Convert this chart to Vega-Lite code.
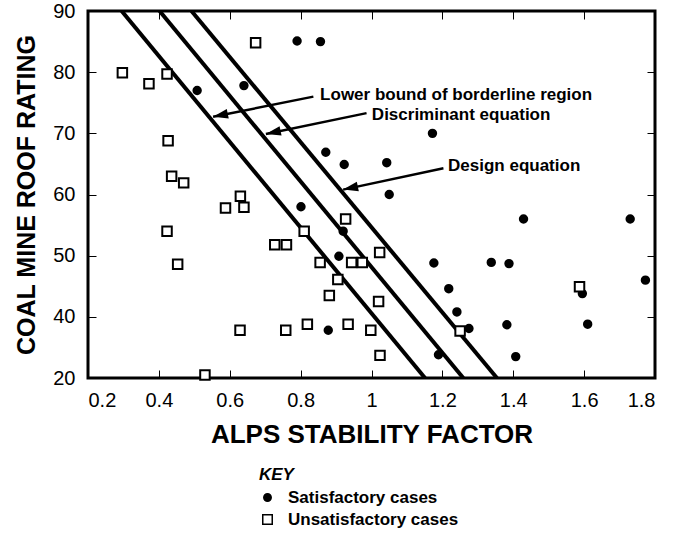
{
  "$schema": "https://vega.github.io/schema/vega-lite/v6.json",
  "width": 567,
  "height": 367,
  "autosize": {"type": "none"},
  "padding": {"left": 88, "top": 11, "right": 29, "bottom": 155},
  "background": "white",
  "config": {
    "font": "Liberation Sans",
    "view": {"stroke": "black", "strokeWidth": 3},
    "axis": {
      "domain": false,
      "grid": false,
      "tickColor": "black",
      "tickWidth": 1,
      "tickSize": -8,
      "labelColor": "black",
      "titleColor": "black",
      "labelFont": "Liberation Sans",
      "titleFont": "Liberation Sans"
    },
    "legend": {
      "orient": "none",
      "legendX": 171,
      "legendY": 456,
      "padding": 0,
      "titleFont": "Liberation Sans",
      "titleFontSize": 17,
      "titleFontWeight": "bold",
      "titleFontStyle": "italic",
      "titleColor": "black",
      "titlePadding": 5,
      "labelFont": "Liberation Sans",
      "labelFontSize": 17,
      "labelFontWeight": "bold",
      "labelColor": "black",
      "labelOffset": 12,
      "labelLimit": 400,
      "rowPadding": 4
    }
  },
  "datasets": {
    "lines": [
      {"eq": "Lower bound of borderline region", "x": 0.295, "y": 90},
      {"eq": "Lower bound of borderline region", "x": 1.151, "y": 30},
      {"eq": "Discriminant equation", "x": 0.402, "y": 90},
      {"eq": "Discriminant equation", "x": 1.259, "y": 30},
      {"eq": "Design equation", "x": 0.492, "y": 90},
      {"eq": "Design equation", "x": 1.354, "y": 30}
    ],
    "arrows": [
      {"x": 0.836, "y": 76.0, "x2": 0.553, "y2": 72.7},
      {"x": 0.986, "y": 73.3, "x2": 0.702, "y2": 69.9},
      {"x": 1.203, "y": 64.3, "x2": 0.920, "y2": 60.8}
    ],
    "notes": [
      {"x": 0.855, "y": 76.3, "label": "Lower bound of borderline region"},
      {"x": 1.001, "y": 73.05, "label": "Discriminant equation"},
      {"x": 1.216, "y": 64.6, "label": "Design equation"}
    ],
    "points": [
      {"type": "Satisfactory cases", "x": 0.790, "y": 85.1},
      {"type": "Satisfactory cases", "x": 0.856, "y": 85.0},
      {"type": "Satisfactory cases", "x": 0.508, "y": 77.0},
      {"type": "Satisfactory cases", "x": 0.640, "y": 77.8},
      {"type": "Satisfactory cases", "x": 0.871, "y": 66.9},
      {"type": "Satisfactory cases", "x": 0.923, "y": 64.9},
      {"type": "Satisfactory cases", "x": 1.172, "y": 70.0},
      {"type": "Satisfactory cases", "x": 1.043, "y": 65.2},
      {"type": "Satisfactory cases", "x": 1.050, "y": 60.0},
      {"type": "Satisfactory cases", "x": 0.801, "y": 58.0},
      {"type": "Satisfactory cases", "x": 0.920, "y": 54.0},
      {"type": "Satisfactory cases", "x": 0.908, "y": 49.9},
      {"type": "Satisfactory cases", "x": 0.878, "y": 37.8},
      {"type": "Satisfactory cases", "x": 1.429, "y": 56.0},
      {"type": "Satisfactory cases", "x": 1.730, "y": 56.0},
      {"type": "Satisfactory cases", "x": 1.176, "y": 48.8},
      {"type": "Satisfactory cases", "x": 1.338, "y": 48.9},
      {"type": "Satisfactory cases", "x": 1.388, "y": 48.7},
      {"type": "Satisfactory cases", "x": 1.773, "y": 46.0},
      {"type": "Satisfactory cases", "x": 1.595, "y": 43.8},
      {"type": "Satisfactory cases", "x": 1.218, "y": 44.6},
      {"type": "Satisfactory cases", "x": 1.241, "y": 40.8},
      {"type": "Satisfactory cases", "x": 1.275, "y": 38.1},
      {"type": "Satisfactory cases", "x": 1.382, "y": 38.7},
      {"type": "Satisfactory cases", "x": 1.610, "y": 38.8},
      {"type": "Satisfactory cases", "x": 1.189, "y": 33.8},
      {"type": "Satisfactory cases", "x": 1.407, "y": 33.5},
      {"type": "Unsatisfactory cases", "x": 0.673, "y": 84.8},
      {"type": "Unsatisfactory cases", "x": 0.297, "y": 79.9},
      {"type": "Unsatisfactory cases", "x": 0.372, "y": 78.1},
      {"type": "Unsatisfactory cases", "x": 0.423, "y": 79.7},
      {"type": "Unsatisfactory cases", "x": 0.426, "y": 68.8},
      {"type": "Unsatisfactory cases", "x": 0.436, "y": 63.0},
      {"type": "Unsatisfactory cases", "x": 0.470, "y": 61.9},
      {"type": "Unsatisfactory cases", "x": 0.630, "y": 59.7},
      {"type": "Unsatisfactory cases", "x": 0.588, "y": 57.8},
      {"type": "Unsatisfactory cases", "x": 0.640, "y": 57.9},
      {"type": "Unsatisfactory cases", "x": 0.927, "y": 56.0},
      {"type": "Unsatisfactory cases", "x": 0.810, "y": 54.0},
      {"type": "Unsatisfactory cases", "x": 0.423, "y": 54.0},
      {"type": "Unsatisfactory cases", "x": 0.727, "y": 51.8},
      {"type": "Unsatisfactory cases", "x": 0.760, "y": 51.8},
      {"type": "Unsatisfactory cases", "x": 1.023, "y": 50.5},
      {"type": "Unsatisfactory cases", "x": 0.855, "y": 48.9},
      {"type": "Unsatisfactory cases", "x": 0.944, "y": 48.9},
      {"type": "Unsatisfactory cases", "x": 0.974, "y": 48.9},
      {"type": "Unsatisfactory cases", "x": 0.453, "y": 48.6},
      {"type": "Unsatisfactory cases", "x": 0.905, "y": 46.1},
      {"type": "Unsatisfactory cases", "x": 0.881, "y": 43.5},
      {"type": "Unsatisfactory cases", "x": 1.020, "y": 42.5},
      {"type": "Unsatisfactory cases", "x": 0.629, "y": 37.8},
      {"type": "Unsatisfactory cases", "x": 0.758, "y": 37.8},
      {"type": "Unsatisfactory cases", "x": 0.819, "y": 38.8},
      {"type": "Unsatisfactory cases", "x": 0.934, "y": 38.8},
      {"type": "Unsatisfactory cases", "x": 0.998, "y": 37.8},
      {"type": "Unsatisfactory cases", "x": 1.024, "y": 33.7},
      {"type": "Unsatisfactory cases", "x": 0.530, "y": 30.5},
      {"type": "Unsatisfactory cases", "x": 1.250, "y": 37.7},
      {"type": "Unsatisfactory cases", "x": 1.587, "y": 44.9}
    ]
  },
  "layer": [
    {
      "data": {"name": "lines"},
      "mark": {"type": "line", "stroke": "black", "strokeWidth": 4, "clip": true},
      "encoding": {
        "x": {
          "field": "x", "type": "quantitative",
          "scale": {"domain": [0.2, 1.8], "nice": false, "zero": false},
          "axis": {
            "orient": "bottom",
            "values": [0.2, 0.4, 0.6, 0.8, 1, 1.2, 1.4, 1.6, 1.8],
            "format": "~g",
            "labelFontSize": 20,
            "labelPadding": 20,
            "title": "ALPS STABILITY FACTOR",
            "titleFontSize": 26,
            "titleFontWeight": "bold",
            "titlePadding": 11
          }
        },
        "y": {
          "field": "y", "type": "quantitative",
          "scale": {"domain": [30, 90], "nice": false, "zero": false},
          "axis": {
            "orient": "left",
            "values": [30, 40, 50, 60, 70, 80, 90],
            "labelExpr": "datum.value == 30 ? '20' : datum.label",
            "labelFontSize": 20,
            "labelPadding": 21,
            "title": "COAL MINE ROOF RATING",
            "titleFontSize": 25,
            "titleFontWeight": "bold",
            "titlePadding": 13
          }
        },
        "detail": {"field": "eq", "type": "nominal"}
      }
    },
    {
      "data": {"name": "arrows"},
      "mark": {"type": "rule", "stroke": "black", "strokeWidth": 2.5},
      "encoding": {
        "x": {
          "field": "x", "type": "quantitative",
          "scale": {"domain": [0.2, 1.8], "nice": false, "zero": false},
          "axis": {
            "orient": "top",
            "values": [0.2, 0.4, 0.6, 0.8, 1, 1.2, 1.4, 1.6, 1.8],
            "labels": false,
            "title": null
          }
        },
        "y": {
          "field": "y", "type": "quantitative",
          "scale": {"domain": [30, 90], "nice": false, "zero": false},
          "axis": {
            "orient": "right",
            "values": [30, 40, 50, 60, 70, 80, 90],
            "labels": false,
            "title": null
          }
        },
        "x2": {"field": "x2"},
        "y2": {"field": "y2"}
      }
    },
    {
      "data": {"name": "arrows"},
      "mark": {"type": "point", "shape": "M0,0L-1,-0.32L-1,0.32Z", "size": 900, "filled": true, "color": "black", "opacity": 1, "strokeWidth": 0, "angle": 168},
      "encoding": {
        "x": {"field": "x2", "type": "quantitative", "scale": {"domain": [0.2, 1.8], "nice": false, "zero": false}, "axis": null},
        "y": {"field": "y2", "type": "quantitative", "scale": {"domain": [30, 90], "nice": false, "zero": false}, "axis": null}
      }
    },
    {
      "data": {"name": "notes"},
      "mark": {"type": "text", "align": "left", "baseline": "middle", "font": "Liberation Sans", "fontSize": 17, "fontWeight": "bold", "color": "black"},
      "encoding": {
        "x": {"field": "x", "type": "quantitative", "scale": {"domain": [0.2, 1.8], "nice": false, "zero": false}, "axis": null},
        "y": {"field": "y", "type": "quantitative", "scale": {"domain": [30, 90], "nice": false, "zero": false}, "axis": null},
        "text": {"field": "label"}
      }
    },
    {
      "data": {"name": "points"},
      "mark": {"type": "point", "filled": true, "stroke": "black", "strokeWidth": 2, "opacity": 1},
      "encoding": {
        "x": {"field": "x", "type": "quantitative", "scale": {"domain": [0.2, 1.8], "nice": false, "zero": false}, "axis": null},
        "y": {"field": "y", "type": "quantitative", "scale": {"domain": [30, 90], "nice": false, "zero": false}, "axis": null},
        "shape": {
          "field": "type", "type": "nominal",
          "scale": {"domain": ["Satisfactory cases", "Unsatisfactory cases"], "range": ["circle", "square"]},
          "legend": {
            "title": "KEY",
            "encode": {"symbols": {"update": {"stroke": {"value": "black"}, "strokeWidth": {"value": 2}}}}
          }
        },
        "fill": {
          "field": "type", "type": "nominal",
          "scale": {"domain": ["Satisfactory cases", "Unsatisfactory cases"], "range": ["black", "white"]},
          "legend": {
            "title": "KEY",
            "encode": {"symbols": {"update": {"stroke": {"value": "black"}, "strokeWidth": {"value": 2}}}}
          }
        },
        "size": {
          "field": "type", "type": "nominal",
          "scale": {"domain": ["Satisfactory cases", "Unsatisfactory cases"], "range": [55, 90]},
          "legend": {
            "title": "KEY",
            "encode": {"symbols": {"update": {"stroke": {"value": "black"}, "strokeWidth": {"value": 2}}}}
          }
        }
      }
    }
  ],
  "resolve": {"axis": {"x": "independent", "y": "independent"}}
}
